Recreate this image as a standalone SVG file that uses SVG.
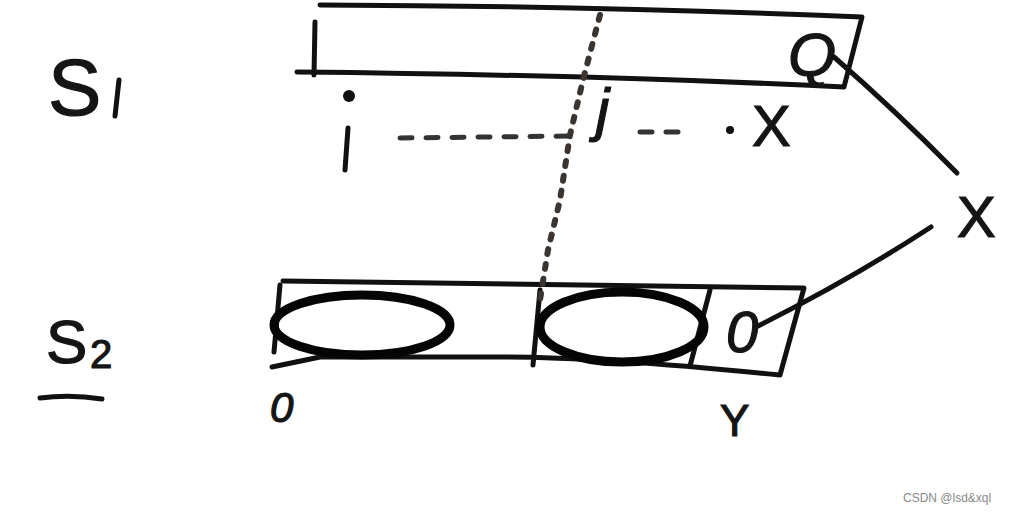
<svg xmlns="http://www.w3.org/2000/svg" width="1009" height="515" viewBox="0 0 1009 515">
<style>
.ink{fill:none;stroke:#111;stroke-width:5;stroke-linecap:round;stroke-linejoin:round}
.bold{fill:none;stroke:#050505;stroke-width:9;stroke-linecap:round}
.dot{fill:none;stroke:#3a3530;stroke-width:6;stroke-linecap:round;stroke-dasharray:5 10}
.dash{fill:none;stroke:#333;stroke-width:5;stroke-linecap:round;stroke-dasharray:12 14}
.hand{font-family:"Liberation Sans","DejaVu Sans",sans-serif;fill:#151515;stroke:#151515;stroke-width:1.2}
.wm{font-family:"Liberation Sans",Arial,sans-serif;font-size:12px;fill:#888}
</style>
<rect width="1009" height="515" fill="#fff"/>
<g id="label-s1">
<text class="hand" x="48" y="115" font-size="80" font-weight="300">S</text>
<path class="ink" d="M119 80 L115 116" stroke-width="8"/>
</g>
<g id="label-s2">
<text class="hand" x="46" y="363" font-size="62" font-weight="300">S</text>
<text class="hand" x="90" y="368" font-size="40">2</text>
<path class="ink" d="M40 398 Q70 394 102 399" stroke-width="5"/>
</g>
<g id="array-s1">
<path class="ink" d="M320 5 Q600 6 862 17 L844 87 Q600 75 297 72"/>
<path class="ink" d="M315 22 L314 75" stroke-width="8"/>
<text class="hand" x="788" y="76" font-size="62" font-style="italic">Q</text>
</g>
<g id="array-s2">
<path class="ink" d="M283 281 Q500 284 804 288 L780 375 Q600 357 504 357 L320 357 L272 367"/>
<path class="ink" d="M280 285 L274 352" stroke-width="6"/>
<path class="ink" d="M540 290 L533 365" stroke-width="6"/>
<path class="ink" d="M710 290 L690 366" stroke-width="5"/>
<ellipse class="bold" cx="362" cy="325" rx="88" ry="30"/>
<ellipse class="bold" cx="622" cy="327" rx="82" ry="35"/>
<text class="hand" x="726" y="352" font-size="58" font-style="italic">0</text>
</g>
<g id="labels">
<circle cx="349" cy="96" r="6" fill="#111"/>
<path class="ink" d="M348 128 L345 170" stroke-width="8"/>
<text class="hand" x="596" y="130" font-size="60" font-style="italic">j</text>
<circle cx="730" cy="130" r="4" fill="#111"/>
<text class="hand" x="752" y="146" font-size="58" font-weight="300">X</text>
<text class="hand" x="957" y="237" font-size="58" font-weight="300">X</text>
<text class="hand" x="270" y="422" font-size="42" font-style="italic">0</text>
<text class="hand" x="720" y="436" font-size="44">Y</text>
</g>
<g id="connectors">
<path class="dot" d="M600 15 L583 80 L570 135 L560 200 L548 250 L540 300"/>
<path class="dash" d="M400 138 L570 136"/>
<path class="dash" d="M640 132 L685 132"/>
<path class="ink" d="M834 57 Q895 110 957 173"/>
<path class="ink" d="M931 227 Q850 280 756 327"/>
</g>
<text class="wm" x="903" y="502">CSDN @lsd&amp;xql</text>
</svg>
